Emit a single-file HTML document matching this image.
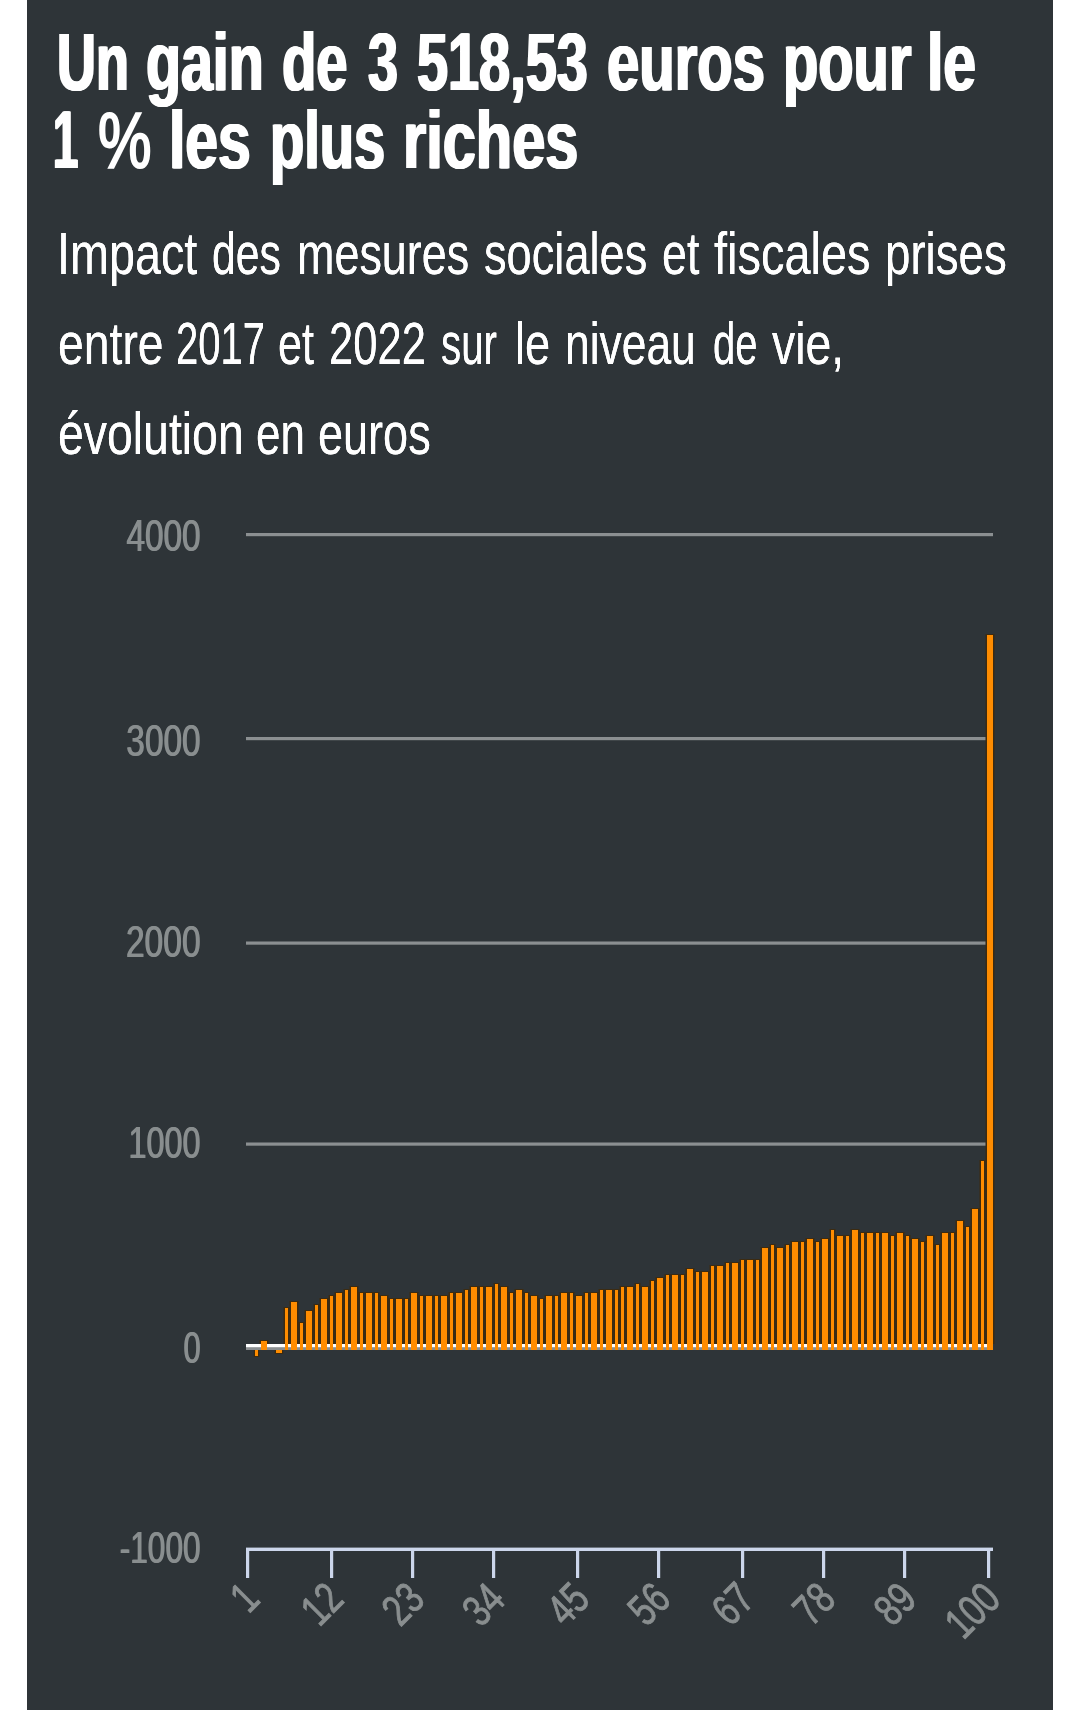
<!DOCTYPE html>
<html lang="fr">
<head>
<meta charset="utf-8">
<title>Un gain de 3 518,53 euros pour le 1 % les plus riches</title>
<style>
html,body{margin:0;padding:0;background:#ffffff;}
body{width:1080px;height:1710px;position:relative;overflow:hidden;font-family:"Liberation Sans",sans-serif;}
#panel{position:absolute;left:27px;top:0;width:1026px;height:1710px;background:#2e3438;}
svg{position:absolute;left:0;top:0;display:block;}
svg text{font-family:"Liberation Sans",sans-serif;}
h1,p{margin:0;padding:0;position:absolute;left:0;top:0;width:1080px;height:0;color:#ffffff;font-family:"Liberation Sans",sans-serif;line-height:1;}
h1{font-size:81px;font-weight:bold;}
.g{filter:drop-shadow(1.5px 0 0 #fff) drop-shadow(1.5px 0 0 #fff);}
p{font-size:58.5px;font-weight:normal;filter:drop-shadow(0.9px 0 0 #fff);}
.ln{position:absolute;left:0;top:0;display:block;white-space:nowrap;line-height:1;}
.g{display:inline-block;line-height:1;}
.w{display:inline-block;line-height:1;transform-origin:0 50%;}
.pct{font-size:77px;font-weight:normal;-webkit-text-stroke:2.2px #fff;}
.lab{filter:drop-shadow(1.2px 0 0 #898e8f);}
</style>
</head>
<body>
<div id="panel"></div>
<h1 id="title">
<span class="ln" style="top:22px"><span class="g"><span class="w" style="margin-left:56.41px;margin-right:-41.71px;transform:scaleX(0.6650)">Un</span> <span class="w" style="margin-right:-52.97px;transform:scaleX(0.7068)">gain</span> <span class="w" style="margin-right:-31.08px;transform:scaleX(0.6929)">de</span> <span class="w" style="margin-right:-18.80px;transform:scaleX(0.6650)">3</span> <span class="w" style="margin-right:-80.32px;transform:scaleX(0.6894)">518,53</span> <span class="w" style="margin-right:-67.50px;transform:scaleX(0.7165)">euros</span> <span class="w" style="margin-right:-58.53px;transform:scaleX(0.7137)">pour</span> <span class="w" style="margin-right:-18.43px;transform:scaleX(0.7272)">le</span></span></span>
<span class="ln" style="top:100px"><span class="g"><span class="w" style="margin-left:52.36px;margin-right:-22.28px;transform:scaleX(0.5600)">1</span></span> <span class="w pct" style="margin-right:-20.54px;transform:scaleX(0.7812)">%</span> <span class="g"><span class="w" style="margin-right:-34.33px;transform:scaleX(0.7269)">les</span> <span class="w" style="margin-right:-55.77px;transform:scaleX(0.6923)">plus</span> <span class="w" style="margin-right:-63.24px;transform:scaleX(0.7350)">riches</span></span></span>
</h1>
<p id="subtitle">
<span class="ln" style="top:225px"><span class="w" style="margin-left:56.50px;margin-right:-35.97px;transform:scaleX(0.7992)">Impact</span> <span class="w" style="margin-right:-26.42px;transform:scaleX(0.7302)">des</span> <span class="w" style="margin-right:-53.34px;transform:scaleX(0.7679)">mesures</span> <span class="w" style="margin-right:-49.86px;transform:scaleX(0.7728)">sociales</span> <span class="w" style="margin-right:-12.51px;transform:scaleX(0.7650)">et</span> <span class="w" style="margin-right:-40.36px;transform:scaleX(0.8023)">fiscales</span> <span class="w" style="margin-right:-34.23px;transform:scaleX(0.7806)">prises</span></span>
<span class="ln" style="top:314.9px"><span class="w" style="margin-left:57.72px;margin-right:-30.98px;transform:scaleX(0.7919)">entre</span> <span class="w" style="margin-right:-44.59px;transform:scaleX(0.6840)">2017</span> <span class="w" style="margin-right:-14.26px;transform:scaleX(0.7371)">et</span> <span class="w" style="margin-right:-34.59px;transform:scaleX(0.7444)">2022</span> <span class="w" style="margin-right:-22.95px;transform:scaleX(0.6881)">sur</span> <span class="w" style="margin-right:-12.04px;transform:scaleX(0.7726)">le</span> <span class="w" style="margin-right:-41.19px;transform:scaleX(0.7585)">niveau</span> <span class="w" style="margin-right:-22.40px;transform:scaleX(0.6840)">de</span> <span class="w" style="margin-right:-18.87px;transform:scaleX(0.7927)">vie,</span></span>
<span class="ln" style="top:404.9px"><span class="w" style="margin-left:57.71px;margin-right:-52.24px;transform:scaleX(0.7930)">évolution</span> <span class="w" style="margin-right:-19.46px;transform:scaleX(0.7508)">en</span> <span class="w" style="margin-right:-33.63px;transform:scaleX(0.7702)">euros</span></span>
</p>
<svg width="1080" height="1710" viewBox="0 0 1080 1710">
<rect x="246" y="533" width="747" height="3.2" fill="#8b8f91"/>
<rect x="246" y="737" width="747" height="3.2" fill="#8b8f91"/>
<rect x="246" y="941.5" width="747" height="3.2" fill="#8b8f91"/>
<rect x="246" y="1142.5" width="747" height="3.2" fill="#8b8f91"/>
<rect x="246" y="1347" width="747" height="3" fill="#8b8f91"/>
<rect x="246" y="1344" width="747" height="3.2" fill="#ffffff"/>
<g fill="#3d2b10">
<rect x="253.8" y="1350" width="5.4" height="7"/>
<rect x="259.5" y="1340" width="9" height="4"/>
<rect x="274.8" y="1350" width="8.4" height="4"/>
<rect x="283.5" y="1307" width="6" height="37"/>
<rect x="289.5" y="1301" width="9" height="43"/>
<rect x="298.5" y="1322" width="6" height="22"/>
<rect x="304.5" y="1310" width="9" height="34"/>
<rect x="313.5" y="1304" width="6" height="40"/>
<rect x="319.5" y="1298" width="9" height="46"/>
<rect x="328.5" y="1295" width="6" height="49"/>
<rect x="334.5" y="1292" width="9" height="52"/>
<rect x="343.5" y="1289" width="6" height="55"/>
<rect x="349.5" y="1286" width="9" height="58"/>
<rect x="358.5" y="1292" width="6" height="52"/>
<rect x="364.5" y="1292" width="9" height="52"/>
<rect x="373.5" y="1292" width="6" height="52"/>
<rect x="379.5" y="1295" width="9" height="49"/>
<rect x="388.5" y="1298" width="6" height="46"/>
<rect x="394.5" y="1298" width="9" height="46"/>
<rect x="403.5" y="1298" width="6" height="46"/>
<rect x="409.5" y="1292" width="9" height="52"/>
<rect x="418.5" y="1295" width="6" height="49"/>
<rect x="424.5" y="1295" width="9" height="49"/>
<rect x="433.5" y="1295" width="6" height="49"/>
<rect x="439.5" y="1295" width="9" height="49"/>
<rect x="448.5" y="1292" width="6" height="52"/>
<rect x="454.5" y="1292" width="9" height="52"/>
<rect x="463.5" y="1289" width="6" height="55"/>
<rect x="469.5" y="1286" width="9" height="58"/>
<rect x="478.5" y="1286" width="6" height="58"/>
<rect x="484.5" y="1286" width="9" height="58"/>
<rect x="493.5" y="1283" width="6" height="61"/>
<rect x="499.5" y="1286" width="9" height="58"/>
<rect x="508.5" y="1292" width="6" height="52"/>
<rect x="514.5" y="1289" width="9" height="55"/>
<rect x="523.5" y="1292" width="6" height="52"/>
<rect x="529.5" y="1295" width="9" height="49"/>
<rect x="538.5" y="1298" width="6" height="46"/>
<rect x="544.5" y="1295" width="9" height="49"/>
<rect x="553.5" y="1295" width="6" height="49"/>
<rect x="559.5" y="1292" width="9" height="52"/>
<rect x="568.5" y="1292" width="6" height="52"/>
<rect x="574.5" y="1295" width="9" height="49"/>
<rect x="583.5" y="1292" width="6" height="52"/>
<rect x="589.5" y="1292" width="9" height="52"/>
<rect x="598.5" y="1289" width="6" height="55"/>
<rect x="604.5" y="1289" width="9" height="55"/>
<rect x="613.5" y="1289" width="6" height="55"/>
<rect x="619.5" y="1286" width="6" height="58"/>
<rect x="625.5" y="1286" width="9" height="58"/>
<rect x="634.5" y="1283" width="6" height="61"/>
<rect x="640.5" y="1286" width="9" height="58"/>
<rect x="649.5" y="1280" width="6" height="64"/>
<rect x="655.5" y="1277" width="9" height="67"/>
<rect x="664.5" y="1274" width="6" height="70"/>
<rect x="670.5" y="1274" width="9" height="70"/>
<rect x="679.5" y="1274" width="6" height="70"/>
<rect x="685.5" y="1268" width="9" height="76"/>
<rect x="694.5" y="1271" width="6" height="73"/>
<rect x="700.5" y="1271" width="9" height="73"/>
<rect x="709.5" y="1265" width="6" height="79"/>
<rect x="715.5" y="1265" width="9" height="79"/>
<rect x="724.5" y="1262" width="6" height="82"/>
<rect x="730.5" y="1262" width="9" height="82"/>
<rect x="739.5" y="1259" width="6" height="85"/>
<rect x="745.5" y="1259" width="9" height="85"/>
<rect x="754.5" y="1259" width="6" height="85"/>
<rect x="760.5" y="1247" width="9" height="97"/>
<rect x="769.5" y="1244" width="6" height="100"/>
<rect x="775.5" y="1247" width="9" height="97"/>
<rect x="784.5" y="1244" width="6" height="100"/>
<rect x="790.5" y="1241" width="9" height="103"/>
<rect x="799.5" y="1241" width="6" height="103"/>
<rect x="805.5" y="1238" width="9" height="106"/>
<rect x="814.5" y="1241" width="6" height="103"/>
<rect x="820.5" y="1238" width="9" height="106"/>
<rect x="829.5" y="1229" width="6" height="115"/>
<rect x="835.5" y="1235" width="9" height="109"/>
<rect x="844.5" y="1235" width="6" height="109"/>
<rect x="850.5" y="1229" width="9" height="115"/>
<rect x="859.5" y="1232" width="6" height="112"/>
<rect x="865.5" y="1232" width="9" height="112"/>
<rect x="874.5" y="1232" width="6" height="112"/>
<rect x="880.5" y="1232" width="9" height="112"/>
<rect x="889.5" y="1235" width="6" height="109"/>
<rect x="895.5" y="1232" width="9" height="112"/>
<rect x="904.5" y="1235" width="6" height="109"/>
<rect x="910.5" y="1238" width="9" height="106"/>
<rect x="919.5" y="1241" width="6" height="103"/>
<rect x="925.5" y="1235" width="9" height="109"/>
<rect x="934.5" y="1244" width="6" height="100"/>
<rect x="940.5" y="1232" width="9" height="112"/>
<rect x="949.5" y="1232" width="6" height="112"/>
<rect x="955.5" y="1220" width="9" height="124"/>
<rect x="964.5" y="1226" width="6" height="118"/>
<rect x="970.5" y="1208" width="9" height="136"/>
<rect x="979.5" y="1160" width="6" height="184"/>
<rect x="985.5" y="634" width="9" height="710"/>
</g>
<g fill="#ff8c00">
<rect x="255" y="1350" width="3" height="6"/>
<rect x="261" y="1341" width="6" height="9"/>
<rect x="276" y="1350" width="6" height="3"/>
<rect x="285" y="1308" width="3" height="42"/>
<rect x="291" y="1302" width="6" height="48"/>
<rect x="300" y="1323" width="3" height="27"/>
<rect x="306" y="1311" width="6" height="39"/>
<rect x="315" y="1305" width="3" height="45"/>
<rect x="321" y="1299" width="6" height="51"/>
<rect x="330" y="1296" width="3" height="54"/>
<rect x="336" y="1293" width="6" height="57"/>
<rect x="345" y="1290" width="3" height="60"/>
<rect x="351" y="1287" width="6" height="63"/>
<rect x="360" y="1293" width="3" height="57"/>
<rect x="366" y="1293" width="6" height="57"/>
<rect x="375" y="1293" width="3" height="57"/>
<rect x="381" y="1296" width="6" height="54"/>
<rect x="390" y="1299" width="3" height="51"/>
<rect x="396" y="1299" width="6" height="51"/>
<rect x="405" y="1299" width="3" height="51"/>
<rect x="411" y="1293" width="6" height="57"/>
<rect x="420" y="1296" width="3" height="54"/>
<rect x="426" y="1296" width="6" height="54"/>
<rect x="435" y="1296" width="3" height="54"/>
<rect x="441" y="1296" width="6" height="54"/>
<rect x="450" y="1293" width="3" height="57"/>
<rect x="456" y="1293" width="6" height="57"/>
<rect x="465" y="1290" width="3" height="60"/>
<rect x="471" y="1287" width="6" height="63"/>
<rect x="480" y="1287" width="3" height="63"/>
<rect x="486" y="1287" width="6" height="63"/>
<rect x="495" y="1284" width="3" height="66"/>
<rect x="501" y="1287" width="6" height="63"/>
<rect x="510" y="1293" width="3" height="57"/>
<rect x="516" y="1290" width="6" height="60"/>
<rect x="525" y="1293" width="3" height="57"/>
<rect x="531" y="1296" width="6" height="54"/>
<rect x="540" y="1299" width="3" height="51"/>
<rect x="546" y="1296" width="6" height="54"/>
<rect x="555" y="1296" width="3" height="54"/>
<rect x="561" y="1293" width="6" height="57"/>
<rect x="570" y="1293" width="3" height="57"/>
<rect x="576" y="1296" width="6" height="54"/>
<rect x="585" y="1293" width="3" height="57"/>
<rect x="591" y="1293" width="6" height="57"/>
<rect x="600" y="1290" width="3" height="60"/>
<rect x="606" y="1290" width="6" height="60"/>
<rect x="615" y="1290" width="3" height="60"/>
<rect x="621" y="1287" width="3" height="63"/>
<rect x="627" y="1287" width="6" height="63"/>
<rect x="636" y="1284" width="3" height="66"/>
<rect x="642" y="1287" width="6" height="63"/>
<rect x="651" y="1281" width="3" height="69"/>
<rect x="657" y="1278" width="6" height="72"/>
<rect x="666" y="1275" width="3" height="75"/>
<rect x="672" y="1275" width="6" height="75"/>
<rect x="681" y="1275" width="3" height="75"/>
<rect x="687" y="1269" width="6" height="81"/>
<rect x="696" y="1272" width="3" height="78"/>
<rect x="702" y="1272" width="6" height="78"/>
<rect x="711" y="1266" width="3" height="84"/>
<rect x="717" y="1266" width="6" height="84"/>
<rect x="726" y="1263" width="3" height="87"/>
<rect x="732" y="1263" width="6" height="87"/>
<rect x="741" y="1260" width="3" height="90"/>
<rect x="747" y="1260" width="6" height="90"/>
<rect x="756" y="1260" width="3" height="90"/>
<rect x="762" y="1248" width="6" height="102"/>
<rect x="771" y="1245" width="3" height="105"/>
<rect x="777" y="1248" width="6" height="102"/>
<rect x="786" y="1245" width="3" height="105"/>
<rect x="792" y="1242" width="6" height="108"/>
<rect x="801" y="1242" width="3" height="108"/>
<rect x="807" y="1239" width="6" height="111"/>
<rect x="816" y="1242" width="3" height="108"/>
<rect x="822" y="1239" width="6" height="111"/>
<rect x="831" y="1230" width="3" height="120"/>
<rect x="837" y="1236" width="6" height="114"/>
<rect x="846" y="1236" width="3" height="114"/>
<rect x="852" y="1230" width="6" height="120"/>
<rect x="861" y="1233" width="3" height="117"/>
<rect x="867" y="1233" width="6" height="117"/>
<rect x="876" y="1233" width="3" height="117"/>
<rect x="882" y="1233" width="6" height="117"/>
<rect x="891" y="1236" width="3" height="114"/>
<rect x="897" y="1233" width="6" height="117"/>
<rect x="906" y="1236" width="3" height="114"/>
<rect x="912" y="1239" width="6" height="111"/>
<rect x="921" y="1242" width="3" height="108"/>
<rect x="927" y="1236" width="6" height="114"/>
<rect x="936" y="1245" width="3" height="105"/>
<rect x="942" y="1233" width="6" height="117"/>
<rect x="951" y="1233" width="3" height="117"/>
<rect x="957" y="1221" width="6" height="129"/>
<rect x="966" y="1227" width="3" height="123"/>
<rect x="972" y="1209" width="6" height="141"/>
<rect x="981" y="1161" width="3" height="189"/>
<rect x="987" y="635" width="6" height="715"/>
</g>
<rect x="246" y="1547.6" width="747" height="3.4" fill="#ccd6eb"/>
<rect x="246" y="1549" width="3.2" height="29" fill="#ccd6eb"/>
<rect x="330" y="1549" width="3.2" height="29" fill="#ccd6eb"/>
<rect x="411" y="1549" width="3.2" height="29" fill="#ccd6eb"/>
<rect x="492" y="1549" width="3.2" height="29" fill="#ccd6eb"/>
<rect x="576" y="1549" width="3.2" height="29" fill="#ccd6eb"/>
<rect x="657" y="1549" width="3.2" height="29" fill="#ccd6eb"/>
<rect x="741" y="1549" width="3.2" height="29" fill="#ccd6eb"/>
<rect x="822" y="1549" width="3.2" height="29" fill="#ccd6eb"/>
<rect x="903" y="1549" width="3.2" height="29" fill="#ccd6eb"/>
<rect x="987" y="1549" width="3.2" height="29" fill="#ccd6eb"/>
<g class="lab" font-size="44" fill="#898e8f">
<text transform="translate(125.94,551.4) scale(0.7578,1)">4000</text>
<text transform="translate(125.84,755.6) scale(0.7588,1)">3000</text>
<text transform="translate(125.47,957.3) scale(0.7626,1)">2000</text>
<text transform="translate(128.09,1158.3) scale(0.7355,1)">1000</text>
<text transform="translate(182.90,1362.5) scale(0.7000,1)">0</text>
<text transform="translate(119.28,1563.3) scale(0.7178,1)">-1000</text>
</g>
<g class="xlab" font-size="44" fill="#898e8f" stroke="#898e8f" stroke-width="0.9">
<text transform="translate(260.8,1602.2) rotate(-45) translate(-17.48,0) scale(0.76,1)">1</text>
<text transform="translate(344.8,1602.2) rotate(-45) translate(-36.08,0) scale(0.76,1)">12</text>
<text transform="translate(425.8,1602.2) rotate(-45) translate(-36.08,0) scale(0.76,1)">23</text>
<text transform="translate(506.8,1602.2) rotate(-45) translate(-36.84,0) scale(0.76,1)">34</text>
<text transform="translate(590.8,1602.2) rotate(-45) translate(-36.08,0) scale(0.76,1)">45</text>
<text transform="translate(671.8,1602.2) rotate(-45) translate(-36.08,0) scale(0.76,1)">56</text>
<text transform="translate(755.8,1602.2) rotate(-45) translate(-36.08,0) scale(0.76,1)">67</text>
<text transform="translate(836.8,1602.2) rotate(-45) translate(-36.08,0) scale(0.76,1)">78</text>
<text transform="translate(917.8,1602.2) rotate(-45) translate(-36.08,0) scale(0.76,1)">89</text>
<text transform="translate(1001.8,1602.2) rotate(-45) translate(-54.68,0) scale(0.76,1)">100</text>
</g>
</svg>
</body>
</html>
